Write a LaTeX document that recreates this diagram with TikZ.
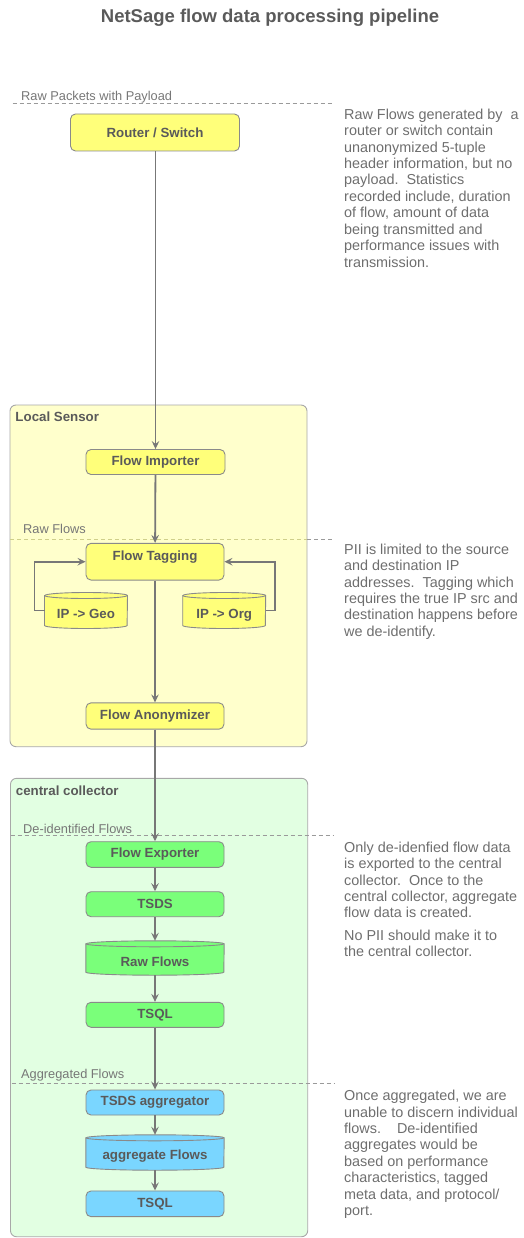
\documentclass[tikz,border=0pt]{standalone}
\usepackage{fontspec}
\setmainfont{Liberation Sans}
\usetikzlibrary{arrows.meta}
\pgfdeclarelayer{back}
\pgfdeclarelayer{mid}
\pgfsetlayers{back,mid,main}
\definecolor{ink}{HTML}{5A5A5A}
\definecolor{notec}{HTML}{6E6E6E}
\definecolor{labc}{HTML}{777777}
\definecolor{linec}{HTML}{777777}
\definecolor{boxline}{HTML}{8A8A8A}
\definecolor{sepc}{HTML}{9A9A9A}
\definecolor{sepy}{HTML}{CFCF8A}
\definecolor{yelbox}{HTML}{FFFF7A}
\definecolor{yelbg}{HTML}{FFFFCC}
\definecolor{grnbox}{HTML}{7AFF7A}
\definecolor{grnbg}{HTML}{E2FFE2}
\definecolor{blubox}{HTML}{7AD6FF}
\definecolor{contline}{HTML}{A8A8A8}
\newcommand\cylshape[3]{%
  \begin{pgfonlayer}{mid}
  \filldraw[fill=#2, draw=boxline, line width=0.9pt]
    ([yshift=-3pt]#1.north west) -- ([yshift=3pt]#1.south west)
    arc[start angle=180, end angle=360, x radius=#3, y radius=3pt]
    -- ([yshift=-3pt]#1.north east)
    arc[start angle=0, end angle=180, x radius=#3, y radius=3pt] -- cycle;
  \draw[boxline, line width=0.9pt] ([yshift=-3pt]#1.north west)
    arc[start angle=180, end angle=360, x radius=#3, y radius=3pt];
  \end{pgfonlayer}}
\begin{document}
\begin{tikzpicture}[x=1pt,y=-1pt,
  boxfont/.style={font=\fontsize{13.3}{16}\selectfont\bfseries, text=ink},
  procbox/.style={boxfont, draw=boxline, line width=0.9pt, rounded corners=5pt,
    inner sep=0pt, minimum width=138pt, minimum height=25.5pt},
  ybox/.style={procbox, fill=yelbox},
  gbox/.style={procbox, fill=grnbox},
  bbox/.style={procbox, fill=blubox},
  cylnode/.style={boxfont, inner sep=0pt},
  container/.style={draw=contline, line width=0.9pt, rounded corners=6pt},
  contlabel/.style={font=\fontsize{13.3}{16}\selectfont\bfseries, text=ink, anchor=base west, inner sep=0pt},
  seclabel/.style={font=\fontsize{12.8}{15}\selectfont, text=labc, anchor=base west, inner sep=0pt},
  sepline/.style={draw=sepc, line width=0.8pt, dash pattern=on 4pt off 3pt},
  note/.style={font=\fontsize{14.4}{16.45}\selectfont, text=notec, anchor=north west, inner sep=0pt, align=left},
  arr/.style={draw=linec, line width=1.8pt, -{Stealth[length=8pt,width=7.5pt,inset=3pt]}},
  ]
\useasboundingbox (0,0) rectangle (523,1238);

% title
\node[font=\fontsize{18.5}{22}\selectfont\bfseries, text=ink, anchor=base, inner sep=0pt] (title) at (270,22.5) {NetSage flow data processing pipeline};

% containers
\begin{pgfonlayer}{back}
\path[container, fill=yelbg] (10,405) rectangle (307,746.7);
\path[container, fill=grnbg] (10.5,778.3) rectangle (307.7,1236.7);
\end{pgfonlayer}
\node[contlabel] (lslabel) at (15.3,421.7) {Local Sensor};
\node[contlabel] (cclabel) at (15.7,795.7) {central collector};

% separators
\draw[sepline] (12.7,103.3) -- (334,103.3);
\draw[sepline, draw=sepy] (10,539.7) -- (307,539.7);
\draw[sepline] (307,539.7) -- (334,539.7);
\draw[sepline] (10.7,835) -- (334,835);
\draw[sepline] (11.7,1083.3) -- (334,1083.3);
\node[seclabel] (l1) at (21,101) {Raw Packets with Payload};
\node[seclabel] (l2) at (23,533) {Raw Flows};
\node[seclabel] (l3) at (23,833) {De-identified Flows};
\node[seclabel] (l4) at (21,1078.5) {Aggregated Flows};

% nodes
\node[ybox, minimum width=169pt, minimum height=37pt] (router) at (155,132.5) {Router / Switch};
\node[ybox, minimum width=139pt, minimum height=25pt] (imp) at (155.5,462) {Flow Importer};
\node[ybox, minimum height=36.7pt] (tag) at (155,561.7) {\raisebox{1.3pt}[0pt][0pt]{Flow Tagging}};
\node[cylnode, minimum width=82.6pt, minimum height=35.6pt] (geo) at (86,610.5) {\raisebox{-7.5pt}[0pt][0pt]{IP -> Geo}};
\node[cylnode, minimum width=82.6pt, minimum height=35.6pt] (org) at (224.2,610.5) {\raisebox{-7.5pt}[0pt][0pt]{IP -> Org}};
\cylshape{geo}{yelbox}{41.3pt}
\cylshape{org}{yelbox}{41.3pt}
\node[ybox, minimum height=26.3pt] (anon) at (155,716) {Flow Anonymizer};

\node[gbox, minimum height=25.6pt] (exp) at (155,854.5) {Flow Exporter};
\node[gbox, minimum height=25pt] (tsds) at (155,904.2) {TSDS};
\node[cylnode, minimum width=138pt, minimum height=34pt] (raw) at (155,958) {\raisebox{-8.4pt}[0pt][0pt]{Raw Flows}};
\cylshape{raw}{grnbox}{69pt}
\node[gbox, minimum height=25pt] (tsql) at (155,1014.8) {TSQL};

\node[bbox, minimum height=25pt] (agg) at (155,1102.5) {TSDS aggregator};
\node[cylnode, minimum width=138pt, minimum height=35pt] (aggf) at (155,1152.5) {\raisebox{-7.2pt}[0pt][0pt]{aggregate Flows}};
\cylshape{aggf}{blubox}{69pt}
\node[bbox, minimum height=25.7pt] (tsqlb) at (155,1203.8) {TSQL};

% connectors
\draw[arr] (router.south -| imp.north) -- (imp.north);
\draw[arr] (imp) -- (tag);
\draw[arr] (tag) -- (anon);
\draw[arr] (geo.west) -- ++(-10,0) |- (tag.west);
\draw[arr] (org.east) -- ++(9,0) |- (tag.east);
\draw[arr] (anon) -- (exp);
\draw[arr] (exp) -- (tsds);
\draw[arr] (tsds) -- (raw);
\draw[arr] (raw) -- (tsql);
\draw[arr] (tsql) -- (agg);
\draw[arr] (agg) -- (aggf);
\draw[arr] (aggf) -- (tsqlb);

% notes
\node[note] (n1) at (344,108.5) {Raw Flows generated by\ \ a\\router or switch contain\\unanonymized 5-tuple\\header information, but no\\payload.\ \ Statistics\\recorded include, duration\\of flow, amount of data\\being transmitted and\\performance issues with\\transmission.};
\node[note] (n2) at (344,543.5) {PII is limited to the source\\and destination IP\\addresses.\ \ Tagging which\\requires the true IP src and\\destination happens before\\we de-identify.};
\node[note] (n3) at (344,841.5) {Only de-idenfied flow data\\is exported to the central\\collector.\ \ Once to the\\central collector, aggregate\\flow data is created.\\[6pt]No PII should make it to\\the central collector.};
\node[note] (n4) at (344,1090) {Once aggregated, we are\\unable to discern individual\\flows.\ \ \ \ De-identified\\aggregates would be\\based on performance\\characteristics, tagged\\meta data, and protocol/\\port.};
\end{tikzpicture}
\end{document}
